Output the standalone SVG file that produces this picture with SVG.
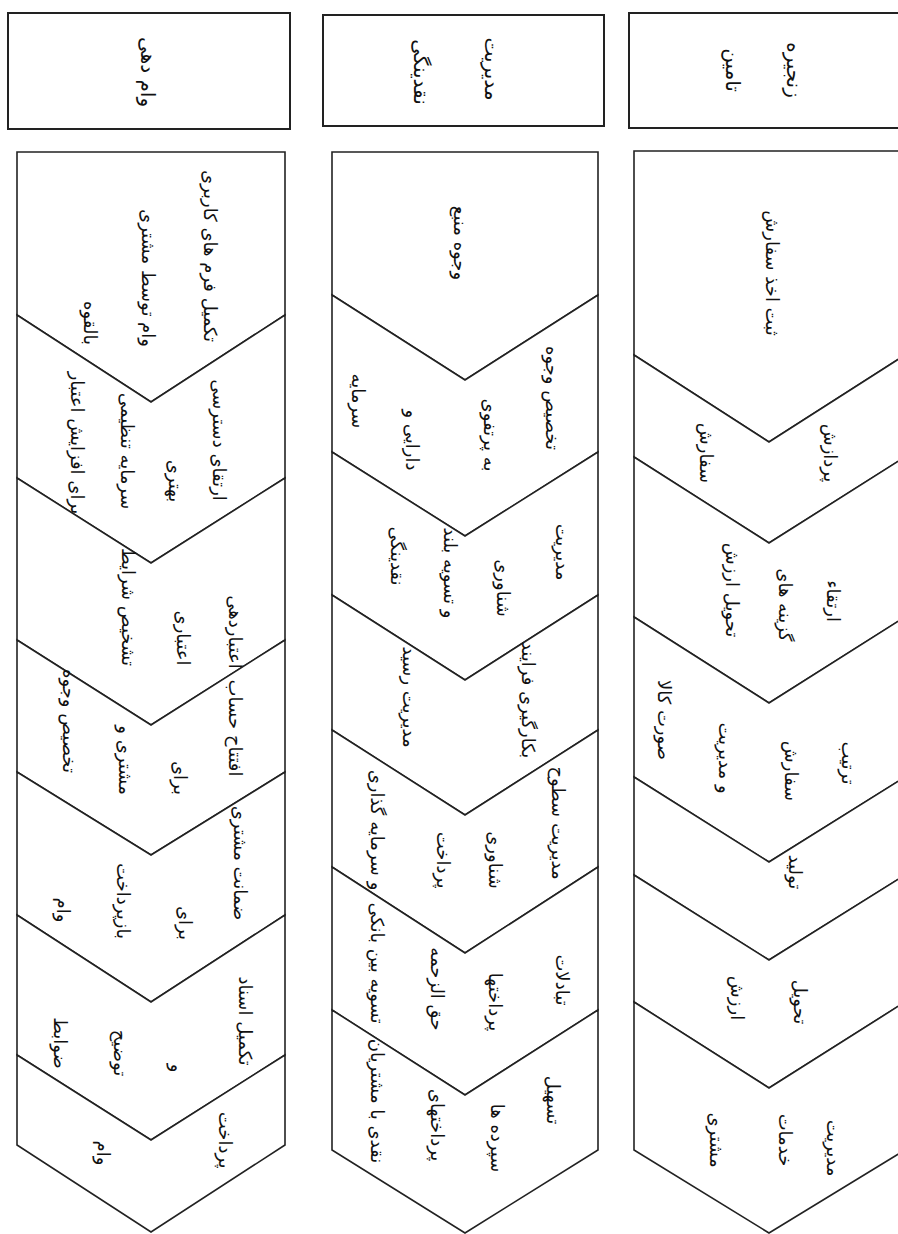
<svg xmlns="http://www.w3.org/2000/svg" width="898" height="1234" viewBox="0 0 898 1234">
<style>
.box{fill:#fff;stroke:#222;stroke-width:2}
.chev{fill:#fff;stroke:#222;stroke-width:1.6;stroke-linejoin:miter}
.t{font-family:"DejaVu Sans",sans-serif;font-size:18px;fill:#111;text-anchor:middle;dominant-baseline:central}
.h{font-size:20px}
</style>
<rect width="898" height="1234" fill="#fff"/>
<g id="header-loan">
<rect class="box" x="8" y="13" width="282" height="116"/>
<text class="t h" transform="translate(148,72) rotate(90)">وام دهی</text>
</g>
<g id="header-liquidity">
<rect class="box" x="323" y="15" width="281" height="111"/>
<text class="t h" transform="translate(492,69) rotate(90)">مدیریت</text>
<text class="t h" transform="translate(421,72) rotate(90)">نقدینگی</text>
</g>
<g id="header-supply">
<rect class="box" x="629" y="13" width="276" height="115"/>
<text class="t h" transform="translate(794,70) rotate(90)">زنجیره</text>
<text class="t h" transform="translate(733,70) rotate(90)">تامین</text>
</g>

<!-- Right column: supply chain -->
<g id="sc-1"><polygon class="chev" points="634,151 905,151 905,355 769,442 634,355"/>
<text class="t" transform="translate(772,273) rotate(90)">ثبت اخذ سفارش</text></g>
<g id="sc-2"><polygon class="chev" points="634,355 769,442 905,355 905,457 769,543 634,457"/>
<text class="t" transform="translate(830,453) rotate(90)">پردازش</text>
<text class="t" transform="translate(706,453) rotate(90)">سفارش</text></g>
<g id="sc-3"><polygon class="chev" points="634,457 769,543 905,457 905,617 769,703 634,617"/>
<text class="t" transform="translate(833,601) rotate(90)">ارتقاء</text>
<text class="t" transform="translate(785,605) rotate(90)">گزینه های</text>
<text class="t" transform="translate(732,590) rotate(90)">تحویل ارزش</text></g>
<g id="sc-4"><polygon class="chev" points="634,617 769,703 905,617 905,777 769,862 634,777"/>
<text class="t" transform="translate(848,763) rotate(90)">ترتیب</text>
<text class="t" transform="translate(791,771) rotate(90)">سفارش</text>
<text class="t" transform="translate(725,758) rotate(90)">و مدیریت</text>
<text class="t" transform="translate(664,720) rotate(90)">صورت کالا</text></g>
<g id="sc-5"><polygon class="chev" points="634,777 769,862 905,777 905,875 769,960 634,875"/>
<text class="t" transform="translate(795,872) rotate(90)">تولید</text></g>
<g id="sc-6"><polygon class="chev" points="634,875 769,960 905,875 905,1002 769,1088 634,1002"/>
<text class="t" transform="translate(800,1002) rotate(90)">تحویل</text>
<text class="t" transform="translate(737,998) rotate(90)">ارزش</text></g>
<g id="sc-7"><polygon class="chev" points="634,1002 769,1088 905,1002 905,1150 769,1233 634,1150"/>
<text class="t" transform="translate(833,1148) rotate(90)">مدیریت</text>
<text class="t" transform="translate(785,1140) rotate(90)">خدمات</text>
<text class="t" transform="translate(716,1140) rotate(90)">مشتری</text></g>

<!-- Middle column: liquidity management -->
<g id="lq-1"><polygon class="chev" points="332,152 598,152 598,295 465,380 332,295"/>
<text class="t" transform="translate(460,243) rotate(90)">وجوه منبع</text></g>
<g id="lq-2"><polygon class="chev" points="332,295 465,380 598,295 598,452 465,536 332,452"/>
<text class="t" transform="translate(552,398) rotate(90)">تخصیص وجوه</text>
<text class="t" transform="translate(490,435) rotate(90)">به پرتفوی</text>
<text class="t" transform="translate(412,440) rotate(90)">دارایی و</text>
<text class="t" transform="translate(358,401) rotate(90)">سرمایه</text></g>
<g id="lq-3"><polygon class="chev" points="332,452 465,536 598,452 598,595 465,680 332,595"/>
<text class="t" transform="translate(562,552) rotate(90)">مدیریت</text>
<text class="t" transform="translate(503,588) rotate(90)">شناوری</text>
<text class="t" transform="translate(450,573) rotate(90)">و تسویه بلند</text>
<text class="t" transform="translate(397,556) rotate(90)">نقدینگی</text></g>
<g id="lq-4"><polygon class="chev" points="332,595 465,680 598,595 598,730 465,815 332,730"/>
<text class="t" transform="translate(528,700) rotate(90)">بکارگیری فرایند</text>
<text class="t" transform="translate(409,697) rotate(90)">مدیریت رسید</text></g>
<g id="lq-5"><polygon class="chev" points="332,730 465,815 598,730 598,867 465,953 332,867"/>
<text class="t" transform="translate(558,823) rotate(90)">مدیریت سطوح</text>
<text class="t" transform="translate(495,860) rotate(90)">شناوری</text>
<text class="t" transform="translate(443,860) rotate(90)">پرداخت</text>
<text class="t" transform="translate(377,830) rotate(90)">و سرمایه گذاری</text></g>
<g id="lq-6"><polygon class="chev" points="332,867 465,953 598,867 598,1010 465,1095 332,1010"/>
<text class="t" transform="translate(562,980) rotate(90)">تبادلات</text>
<text class="t" transform="translate(495,1002) rotate(90)">پرداختها</text>
<text class="t" transform="translate(437,989) rotate(90)">حق الزحمه</text>
<text class="t" transform="translate(377,963) rotate(90)">تسویه بین بانکی</text></g>
<g id="lq-7"><polygon class="chev" points="332,1010 465,1095 598,1010 598,1150 465,1233 332,1150"/>
<text class="t" transform="translate(553,1100) rotate(90)">تسهیل</text>
<text class="t" transform="translate(497,1138) rotate(90)">سپرده ها</text>
<text class="t" transform="translate(437,1125) rotate(90)">پرداختهای</text>
<text class="t" transform="translate(377,1101) rotate(90)">نقدی با مشتریان</text></g>

<!-- Left column: lending -->
<g id="ln-1"><polygon class="chev" points="17,152 285,152 285,315 151,402 17,315"/>
<text class="t" transform="translate(210,256) rotate(90)">تکمیل فرم های کاربری</text>
<text class="t" transform="translate(148,278) rotate(90)">وام توسط مشتری</text>
<text class="t" transform="translate(90,323) rotate(90)">بالقوه</text></g>
<g id="ln-2"><polygon class="chev" points="17,315 151,402 285,315 285,478 151,563 17,478"/>
<text class="t" transform="translate(219,440) rotate(90)">ارتقای دسترسی</text>
<text class="t" transform="translate(175,481) rotate(90)">بهتری</text>
<text class="t" transform="translate(127,451) rotate(90)">سرمایه تنظیمی</text>
<text class="t" transform="translate(77,443) rotate(90)">برای افزایش اعتبار</text></g>
<g id="ln-3"><polygon class="chev" points="17,478 151,563 285,478 285,640 151,725 17,640"/>
<text class="t" transform="translate(235,632) rotate(90)">اعتباردهی</text>
<text class="t" transform="translate(183,638) rotate(90)">اعتباری</text>
<text class="t" transform="translate(128,607) rotate(90)">تشخیص شرایط</text></g>
<g id="ln-4"><polygon class="chev" points="17,640 151,725 285,640 285,772 151,855 17,772"/>
<text class="t" transform="translate(235,728) rotate(90)">افتتاح حساب</text>
<text class="t" transform="translate(180,778) rotate(90)">برای</text>
<text class="t" transform="translate(125,760) rotate(90)">مشتری و</text>
<text class="t" transform="translate(69,721) rotate(90)">تخصیص وجوه</text></g>
<g id="ln-5"><polygon class="chev" points="17,772 151,855 285,772 285,915 151,1002 17,915"/>
<text class="t" transform="translate(240,863) rotate(90)">ضمانت مشتری</text>
<text class="t" transform="translate(185,923) rotate(90)">برای</text>
<text class="t" transform="translate(123,901) rotate(90)">بازپرداخت</text>
<text class="t" transform="translate(63,910) rotate(90)">وام</text></g>
<g id="ln-6"><polygon class="chev" points="17,915 151,1002 285,915 285,1055 151,1140 17,1055"/>
<text class="t" transform="translate(245,1021) rotate(90)">تکمیل اسناد</text>
<text class="t" transform="translate(177,1068) rotate(90)">و</text>
<text class="t" transform="translate(120,1053) rotate(90)">توضیح</text>
<text class="t" transform="translate(60,1043) rotate(90)">ضوابط</text></g>
<g id="ln-7"><polygon class="chev" points="17,1055 151,1140 285,1055 285,1145 151,1232 17,1145"/>
<text class="t" transform="translate(225,1140) rotate(90)">پرداخت</text>
<text class="t" transform="translate(103,1153) rotate(90)">وام</text></g>

<g id="connectors"></g>
</svg>
